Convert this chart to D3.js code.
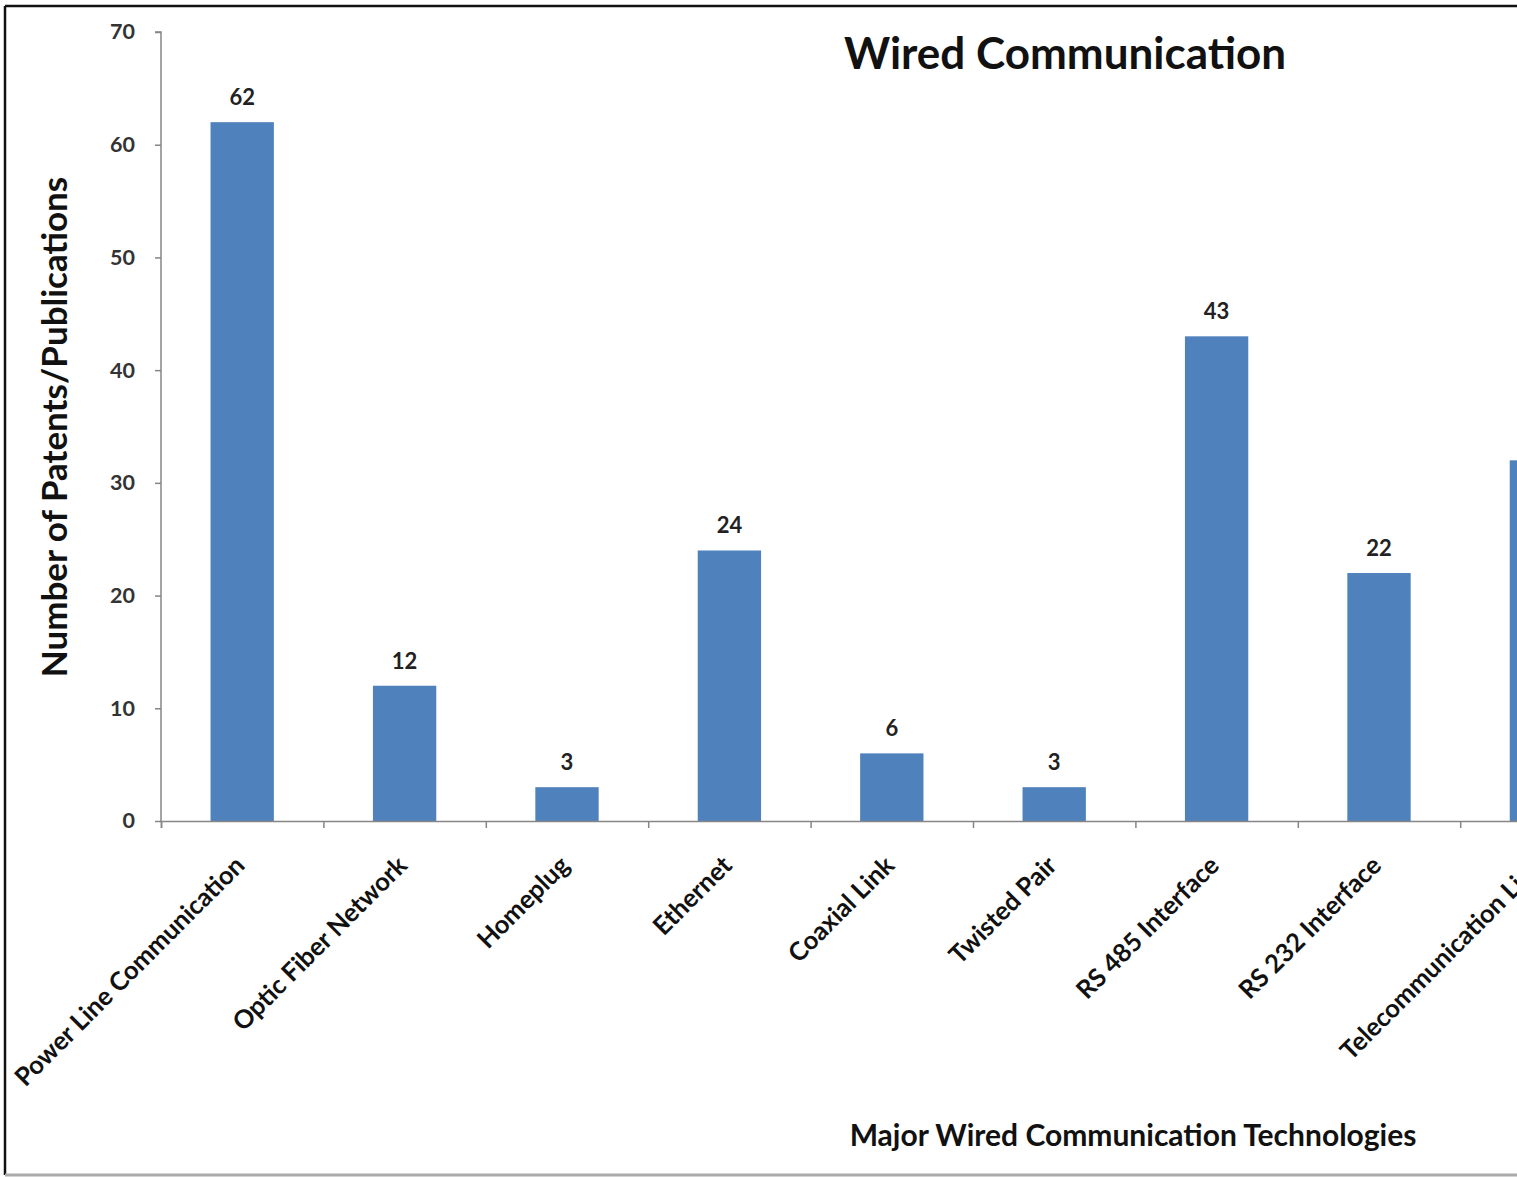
<!DOCTYPE html>
<html><head><meta charset="utf-8">
<script src="https://cdn.jsdelivr.net/npm/d3@7"></script>
<style>
html,body{margin:0;padding:0;background:#fff;overflow:hidden;}
svg{display:block;font-family:Lato,"Open Sans",sans-serif;font-weight:bold;}
</style></head><body>
<svg id="c" width="1517" height="1177"></svg>
<script>
const categories = ["Power Line Communication","Optic Fiber Network","Homeplug","Ethernet","Coaxial Link","Twisted Pair","RS 485 Interface","RS 232 Interface","Telecommunication Line"];
const values = [62,12,3,24,6,3,43,22,32];
const yTicks = [0,10,20,30,40,50,60,70];
const chartTitle = "Wired Communication";
const xTitle = "Major Wired Communication Technologies";
const yTitle = "Number of Patents/Publications";

const svg = d3.select("#c");
const x0 = 161, y0 = 821, y70 = 32;
const band = 162.4;
const x = d3.scaleBand().domain(categories).range([x0, x0 + band*categories.length]).paddingInner(0.61).paddingOuter(0.305);
const y = d3.scaleLinear().domain([0,70]).range([y0, y70]);

// frame
svg.append("line").attr("x1",5).attr("x2",5).attr("y1",6).attr("y2",1175).attr("stroke","#111").attr("stroke-width",2.5);
svg.append("line").attr("x1",5).attr("x2",1517).attr("y1",6).attr("y2",6).attr("stroke","#111").attr("stroke-width",2.5);
svg.append("line").attr("x1",5).attr("x2",1517).attr("y1",1175).attr("y2",1175).attr("stroke","#aaa").attr("stroke-width",3);

// bars
svg.append("g").selectAll("rect").data(values).join("rect")
  .attr("x",(d,i)=>x(categories[i])).attr("width",x.bandwidth())
  .attr("y",d=>y(d)).attr("height",d=>y(0)-y(d)).attr("fill","#4F81BD");

// value labels
svg.append("g").selectAll("text").data(values).join("text")
  .attr("x",(d,i)=>x(categories[i])+x.bandwidth()/2).attr("y",d=>y(d)-17)
  .attr("text-anchor","middle").attr("font-size",22).attr("fill","#222").text(d=>d);

// y axis
const yAxis = svg.append("g").attr("transform",`translate(${x0},0)`)
  .call(d3.axisLeft(y).tickValues(yTicks).tickSize(6).tickPadding(20).tickFormat(d3.format("d")));
yAxis.select(".domain").attr("stroke","#868686").attr("stroke-width",1.5).attr("d",`M-6,${y70}H0V${y0}`);
yAxis.selectAll(".tick line").attr("stroke","#868686").attr("stroke-width",1.5);
yAxis.selectAll(".tick text").attr("font-size",21.5).attr("fill","#333").attr("font-family","Lato,sans-serif").attr("font-weight","bold");

// x axis (ticks at category boundaries)
const xb = d3.scaleLinear().domain([0,categories.length]).range([x0, x0+band*categories.length]);
const xAxis = svg.append("g").attr("transform",`translate(0,${y0})`)
  .call(d3.axisBottom(xb).tickValues(d3.range(0,categories.length+1)).tickSize(7).tickFormat(""));
xAxis.select(".domain").attr("stroke","#868686").attr("stroke-width",1.5);
xAxis.selectAll(".tick line").attr("stroke","#868686").attr("stroke-width",1.5);

// category labels
svg.append("g").selectAll("text").data(categories).join("text")
  .attr("transform",d=>`translate(${x(d)+x.bandwidth()/2+4},${y0+46}) rotate(-45)`)
  .attr("text-anchor","end").attr("font-size",25.5).attr("fill","#111").text(d=>d);

// titles
svg.append("text").attr("x",1065).attr("y",69).attr("text-anchor","middle").attr("font-size",44).attr("fill","#111").text(chartTitle);
svg.append("text").attr("x",1133).attr("y",1146).attr("text-anchor","middle").attr("font-size",30).attr("fill","#111").text(xTitle);
svg.append("text").attr("transform","translate(67,427) rotate(-90)").attr("text-anchor","middle").attr("font-size",35).attr("fill","#111").text(yTitle);
</script>
</body></html>
